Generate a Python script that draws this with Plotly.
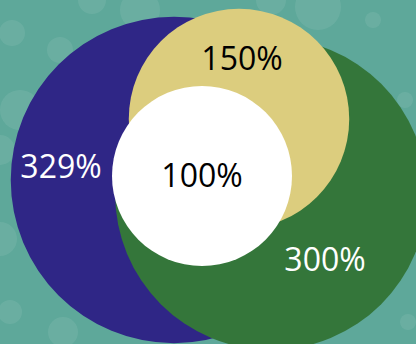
import numpy as np
import plotly.graph_objects as go

# Circle values (percent) and labels, drawn back to front
values = [329, 300, 150, 100]
labels = ['329%', '300%', '150%', '100%']

# Layout of the picture (pixel space, y grows downward)
centers = [(174, 180), (271, 194), (239, 119), (202, 176)]
label_pos = [(61, 170), (325, 263), (242, 62), (202, 179)]
fills = ['#2f2686', '#34763a', '#dccd7e', '#ffffff']
text_colors = ['#ffffff', '#ffffff', '#000000', '#000000']

# area proportional to value -> radius ~ sqrt(value)
base_r = 90
radii = [base_r * np.sqrt(v / 100) for v in values]

bg = '#5ea89a'

# faint background bubbles
bubbles = [(12, 33, 13), (60, 50, 13), (92, 0, 14), (140, 10, 20), (20, 110, 20),
           (0, 150, 15), (318, 7, 23), (373, 20, 8), (405, 100, 8), (271, 0, 15),
           (10, 312, 12), (63, 332, 15), (0, 239, 17), (408, 322, 8)]

shapes = []
for bx, by, br in bubbles:
    shapes.append(dict(type='circle', xref='x', yref='y',
                       x0=bx - br, x1=bx + br, y0=by - br, y1=by + br,
                       fillcolor='rgba(255,255,255,0.08)', line=dict(width=0),
                       layer='below'))

for (cx, cy), r, c in zip(centers, radii, fills):
    shapes.append(dict(type='circle', xref='x', yref='y',
                       x0=cx - r, x1=cx + r, y0=cy - r, y1=cy + r,
                       fillcolor=c, line=dict(width=0), layer='below'))

fig = go.Figure()
fig.add_trace(go.Scatter(
    x=[p[0] for p in label_pos],
    y=[p[1] for p in label_pos],
    mode='text',
    text=labels,
    textfont=dict(family='Open Sans', size=32, color=text_colors),
    hoverinfo='skip',
    showlegend=False
))

fig.update_layout(
    width=416, height=344, autosize=False,
    margin=dict(l=0, r=0, t=0, b=0),
    paper_bgcolor=bg, plot_bgcolor=bg,
    shapes=shapes,
    xaxis=dict(range=[0, 416], visible=False, fixedrange=True),
    yaxis=dict(range=[344, 0], visible=False, fixedrange=True),
)
fig.write_html("out.html", config={'displayModeBar': False},
               post_script="document.body.style.margin='0';document.body.style.overflow='hidden';")
